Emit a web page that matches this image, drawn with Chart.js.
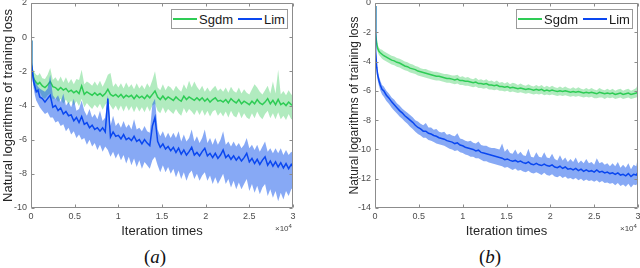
<!DOCTYPE html>
<html>
<head>
<meta charset="utf-8">
<script src="https://cdn.jsdelivr.net/npm/chart.js@4.4.1/dist/chart.umd.min.js"></script>
<style>
  html, body { margin: 0; padding: 0; background: #fff; }
  #wrap { position: relative; width: 640px; height: 268px; overflow: hidden; background: #fff; }
  canvas { position: absolute; top: 0; }
  .leg { position: absolute; top: 9px; width: 117px; height: 20px; box-sizing: border-box;
         border: 1px solid #9a9a9a; background: #fff; font: 13px "Liberation Sans", Arial, sans-serif; color: #1a1a1a; }
  .leg .ln { position: absolute; top: 8px; height: 1.5px; width: 24px; }
  .leg .tx { position: absolute; top: 1px; line-height: 18px; white-space: nowrap; }
  .exp { position: absolute; top: 224px; font: 8px/10px "Liberation Sans", Arial, sans-serif; color: #444; white-space: nowrap; }
  .exp sup { font-size: 6px; vertical-align: 3px; line-height: 0; }
  .cap { position: absolute; top: 246px; width: 60px; text-align: center;
         font: 19px/22px "Liberation Serif", "DejaVu Serif", serif; color: #111; }
</style>
</head>
<body>
<div id="wrap">
  <canvas id="ca" width="320" height="240" style="left:0"></canvas>
  <canvas id="cb" width="320" height="240" style="left:320px"></canvas>

  <div class="leg" style="left:171px">
    <div class="ln" style="left:1px;background:#2ecc55"></div><div class="tx" style="left:27px">Sgdm</div>
    <div class="ln" style="left:66px;background:#0a47f0"></div><div class="tx" style="left:92px">Lim</div>
  </div>
  <div class="leg" style="left:516px">
    <div class="ln" style="left:1px;background:#2ecc55"></div><div class="tx" style="left:27px">Sgdm</div>
    <div class="ln" style="left:66px;background:#0a47f0"></div><div class="tx" style="left:92px">Lim</div>
  </div>

  <div class="exp" style="left:275px">&times;10<sup>4</sup></div>
  <div class="exp" style="left:620px">&times;10<sup>4</sup></div>

  <div class="cap" style="left:125px">(<i>a</i>)</div>
  <div class="cap" style="left:460px">(<i>b</i>)</div>
</div>
<script>
// iteration counts (shared by both panels)
const iters = [
  0, 50, 100, 200, 300, 450, 600, 800, 1000, 1300,
  1600, 1900, 2200, 2500, 2800, 3100, 3400, 3700, 4000, 4300,
  4600, 4900, 5200, 5500, 5800, 6100, 6400, 6700, 7000, 7300,
  7600, 7900, 8200, 8500, 8800, 9100, 9400, 9700, 10000, 10300,
  10600, 10900, 11200, 11500, 11800, 12100, 12400, 12700, 13000, 13300,
  13600, 13900, 14200, 14500, 14800, 15100, 15400, 15700, 16000, 16300,
  16600, 16900, 17200, 17500, 17800, 18100, 18400, 18700, 19000, 19300,
  19600, 19900, 20200, 20500, 20800, 21100, 21400, 21700, 22000, 22300,
  22600, 22900, 23200, 23500, 23800, 24100, 24400, 24700, 25000, 25300,
  25600, 25900, 26200, 26500, 26800, 27100, 27400, 27700, 28000, 28300,
  28600, 28900, 29200, 29500, 29800, 30000
];
const xTickLabels = ["0", "0.5", "1", "1.5", "2", "2.5", "3"];

// (a) Sgdm: mean, band top, band bottom
const sgdmA = [
  -0.2, -1.0, -1.6, -2.1, -2.4, -2.55, -2.65, -2.75, -2.65, -2.85,
  -2.95, -2.8, -2.6, -2.9, -2.95, -3.1, -2.95, -3.1, -3.0, -3.2,
  -3.1, -3.25, -3.15, -3.3, -2.85, -3.35, -3.2, -3.3, -3.4, -3.25,
  -3.4, -3.3, -3.45, -3.3, -3.05, -3.35, -3.45, -3.35, -3.5, -3.35,
  -3.55, -3.4, -3.5, -3.4, -3.6, -3.4, -3.55, -3.45, -3.6, -3.4,
  -3.55, -3.35, -3.15, -3.5, -3.65, -3.45, -3.65, -3.5, -3.6, -3.7,
  -3.5, -3.65, -3.75, -3.45, -3.65, -3.5, -3.6, -3.7, -3.55, -3.7,
  -3.55, -3.75, -3.6, -3.8, -3.65, -3.55, -3.75, -3.7, -3.8, -3.65,
  -3.85, -3.6, -3.75, -3.85, -3.65, -3.9, -3.75, -3.85, -3.95, -3.75,
  -3.9, -3.65, -3.85, -3.95, -3.8, -3.6, -3.9, -3.7, -3.95, -3.65,
  -3.95, -3.85, -4.0, -3.8, -3.95, -4.0
];
const sgdmAHi = [
  -0.1, -0.8, -1.3, -1.8, -2.0, -2.1, -2.2, -2.25, -2.1, -2.4,
  -2.45, -2.2, -1.8, -2.5, -2.35, -2.6, -2.3, -2.65, -2.35, -2.7,
  -2.45, -2.75, -2.45, -2.5, -1.9, -2.75, -2.6, -2.7, -2.85, -2.6,
  -2.85, -2.55, -2.9, -2.6, -2.2, -2.1, -2.9, -2.7, -2.95, -2.7,
  -3.0, -2.65, -2.95, -2.75, -3.05, -2.7, -3.0, -2.8, -3.05, -2.7,
  -2.95, -2.5, -2.0, -2.95, -3.1, -2.75, -3.1, -2.85, -2.95, -3.15,
  -2.85, -3.05, -3.2, -2.75, -3.05, -2.55, -2.95, -2.6, -2.9, -3.1,
  -2.85, -3.2, -2.95, -3.2, -3.0, -2.85, -3.15, -3.0, -3.2, -2.95,
  -3.25, -2.9, -3.15, -3.25, -2.95, -3.3, -3.05, -3.25, -3.35, -3.05,
  -2.75, -2.95, -3.2, -3.35, -3.1, -2.85, -3.3, -2.6, -3.3, -1.9,
  -3.35, -3.15, -3.4, -3.1, -3.35, -3.4
];
const sgdmALo = [
  -0.3, -1.2, -1.9, -2.5, -2.85, -3.0, -3.15, -3.3, -3.2, -3.5,
  -3.6, -3.4, -3.3, -3.65, -3.55, -3.8, -3.6, -3.9, -3.65, -3.95,
  -3.7, -4.0, -3.75, -4.05, -3.6, -4.1, -3.85, -4.05, -4.2, -3.95,
  -4.15, -3.9, -4.25, -3.95, -3.8, -4.0, -4.25, -4.0, -4.3, -4.0,
  -4.35, -4.0, -4.3, -4.05, -4.4, -4.05, -4.35, -4.1, -4.4, -4.05,
  -4.35, -4.0, -3.9, -4.3, -4.45, -4.1, -4.45, -4.2, -4.35, -4.5,
  -4.2, -4.45, -4.6, -4.15, -4.45, -4.2, -4.35, -4.55, -4.25, -4.55,
  -4.25, -4.6, -4.3, -4.65, -4.35, -4.25, -4.6, -4.4, -4.65, -4.35,
  -4.7, -4.3, -4.6, -4.7, -4.35, -4.75, -4.45, -4.7, -4.8, -4.45,
  -4.75, -4.35, -4.65, -4.8, -4.5, -4.3, -4.75, -4.45, -4.8, -4.4,
  -4.8, -4.6, -4.85, -4.5, -4.8, -4.8
];

// (a) Lim
const limA = [
  -0.2, -1.0, -1.6, -2.2, -2.6, -2.9, -3.2, -3.1, -3.5, -3.6,
  -3.8, -3.6, -3.4, -4.1, -4.0, -4.3, -4.15, -4.5, -4.35, -4.6,
  -4.55, -4.9, -4.7, -5.0, -4.65, -5.1, -5.0, -5.3, -5.15, -5.4,
  -5.3, -5.5, -5.3, -5.55, -3.6, -5.85, -5.55, -5.8, -5.75, -5.95,
  -5.7, -6.0, -5.9, -6.05, -5.8, -6.1, -6.0, -6.25, -6.0, -6.2,
  -6.35, -5.2, -4.7, -6.1, -6.45, -6.25, -6.55, -6.4, -6.65, -6.45,
  -6.75, -6.5, -6.85, -6.6, -6.9, -6.7, -6.45, -6.9, -6.75, -6.95,
  -6.7, -6.5, -6.95, -6.8, -7.05, -6.8, -7.1, -6.9, -6.6, -7.05,
  -6.9, -7.15, -6.95, -7.2, -7.0, -7.25, -7.05, -6.8, -7.3, -7.1,
  -7.4, -7.15, -7.45, -7.2, -7.0, -7.5, -7.25, -7.55, -7.3, -7.6,
  -7.35, -7.65, -7.4, -7.7, -7.45, -7.6
];
const limAHi = [
  -0.1, -0.8, -1.3, -1.8, -2.2, -2.5, -2.7, -2.9, -3.0, -3.1,
  -3.2, -3.0, -2.2, -3.4, -3.6, -3.4, -3.8, -3.3, -4.0, -3.8,
  -4.1, -3.6, -4.3, -4.2, -3.7, -4.3, -4.6, -4.2, -4.7, -4.5,
  -4.8, -4.3, -4.9, -4.7, -3.4, -5.2, -4.6, -5.2, -5.0, -5.3,
  -4.9, -5.3, -5.1, -5.4, -4.8, -5.4, -5.3, -5.5, -5.2, -5.5,
  -5.6, -3.9, -3.6, -5.4, -5.8, -5.5, -5.9, -5.6, -5.9, -5.6,
  -5.9, -5.5, -6.1, -5.7, -6.1, -5.9, -5.4, -6.1, -5.8, -6.2,
  -5.9, -5.4, -6.2, -5.9, -6.3, -5.9, -6.3, -6.0, -5.5, -6.3,
  -6.1, -6.4, -6.1, -6.4, -6.2, -6.5, -6.3, -5.9, -6.5, -6.3,
  -6.6, -6.3, -6.7, -6.4, -6.1, -6.7, -6.5, -6.8, -6.5, -6.8,
  -6.5, -6.9, -6.6, -6.9, -6.7, -6.8
];
const limALo = [
  -0.3, -1.2, -1.9, -2.6, -3.0, -3.4, -3.7, -3.9, -4.1, -4.3,
  -4.5, -4.4, -4.7, -4.7, -5.0, -4.9, -5.2, -5.1, -5.5, -5.3,
  -5.7, -5.5, -5.9, -5.7, -6.0, -5.9, -6.3, -6.0, -6.4, -6.2,
  -6.6, -6.3, -6.7, -6.4, -6.6, -7.0, -6.7, -7.1, -6.8, -7.2,
  -6.9, -7.4, -7.0, -7.5, -7.1, -7.6, -7.2, -7.7, -7.3, -7.5,
  -7.7, -7.2, -7.0, -7.5, -7.9, -7.5, -7.9, -7.6, -8.0, -7.7,
  -8.2, -7.8, -8.3, -7.9, -8.4, -8.0, -7.8, -8.3, -8.0, -8.4,
  -8.1, -7.9, -8.4, -8.1, -8.6, -8.2, -8.6, -8.3, -8.0, -8.6,
  -8.3, -8.8, -8.4, -8.9, -8.5, -8.9, -8.6, -8.3, -9.0, -8.6,
  -9.1, -8.7, -9.2, -8.8, -8.6, -9.3, -8.9, -9.4, -9.0, -9.6,
  -9.1, -9.5, -9.0, -9.3, -8.9, -8.8
];

// (b) Sgdm
const sgdmB = [
  -0.2, -1.3, -2.1, -2.8, -3.1, -3.3, -3.4, -3.5, -3.6, -3.7,
  -3.8, -3.9, -3.95, -4.05, -4.1, -4.2, -4.3, -4.35, -4.45, -4.5,
  -4.55, -4.65, -4.7, -4.75, -4.8, -4.85, -4.9, -4.95, -5.0, -5.0,
  -5.05, -5.1, -5.15, -5.15, -5.2, -5.25, -5.2, -5.3, -5.3, -5.35,
  -5.35, -5.4, -5.45, -5.4, -5.5, -5.5, -5.55, -5.5, -5.6, -5.6,
  -5.65, -5.6, -5.7, -5.7, -5.75, -5.7, -5.8, -5.75, -5.8, -5.85,
  -5.8, -5.85, -5.9, -5.85, -5.9, -5.95, -5.9, -5.95, -5.9, -6.0,
  -5.95, -6.0, -5.95, -6.0, -6.05, -6.0, -6.05, -6.0, -6.05, -6.1,
  -6.05, -6.1, -6.05, -6.1, -6.15, -6.1, -6.15, -6.1, -6.15, -6.2,
  -6.1, -6.15, -6.2, -6.15, -6.2, -6.15, -6.25, -6.2, -6.15, -6.25,
  -6.2, -6.15, -6.25, -6.2, -6.15, -6.1
];
const sgdmBHi = [
  -0.05, -1.0, -1.8, -2.5, -2.85, -3.05, -3.15, -3.2, -3.3, -3.4,
  -3.5, -3.6, -3.65, -3.75, -3.8, -3.9, -4.0, -4.05, -4.15, -4.2,
  -4.3, -4.35, -4.45, -4.5, -4.5, -4.6, -4.65, -4.7, -4.7, -4.75,
  -4.8, -4.85, -4.85, -4.9, -4.95, -4.95, -4.9, -5.05, -5.0, -5.1,
  -5.05, -5.15, -5.2, -5.1, -5.25, -5.2, -5.3, -5.2, -5.35, -5.3,
  -5.4, -5.3, -5.45, -5.4, -5.5, -5.4, -5.55, -5.45, -5.5, -5.6,
  -5.5, -5.6, -5.65, -5.55, -5.65, -5.7, -5.6, -5.7, -5.6, -5.75,
  -5.65, -5.75, -5.65, -5.75, -5.8, -5.7, -5.8, -5.7, -5.8, -5.85,
  -5.75, -5.85, -5.75, -5.85, -5.9, -5.8, -5.9, -5.8, -5.9, -5.95,
  -5.8, -5.9, -5.95, -5.85, -5.95, -5.85, -6.0, -5.9, -5.85, -6.0,
  -5.9, -5.85, -6.0, -5.9, -5.8, -5.5
];
const sgdmBLo = [
  -0.35, -1.6, -2.4, -3.1, -3.35, -3.55, -3.65, -3.8, -3.9, -4.0,
  -4.1, -4.2, -4.25, -4.35, -4.4, -4.5, -4.6, -4.65, -4.75, -4.8,
  -4.85, -4.95, -5.0, -5.05, -5.1, -5.15, -5.2, -5.25, -5.3, -5.3,
  -5.35, -5.4, -5.45, -5.45, -5.5, -5.55, -5.5, -5.6, -5.6, -5.65,
  -5.65, -5.7, -5.75, -5.7, -5.8, -5.8, -5.85, -5.8, -5.9, -5.9,
  -5.95, -5.9, -6.0, -6.0, -6.05, -6.0, -6.1, -6.05, -6.1, -6.15,
  -6.1, -6.15, -6.2, -6.15, -6.2, -6.25, -6.2, -6.25, -6.2, -6.3,
  -6.25, -6.3, -6.25, -6.3, -6.35, -6.3, -6.35, -6.3, -6.35, -6.4,
  -6.35, -6.4, -6.35, -6.4, -6.45, -6.4, -6.45, -6.4, -6.5, -6.5,
  -6.45, -6.45, -6.55, -6.45, -6.5, -6.45, -6.55, -6.5, -6.45, -6.55,
  -6.5, -6.45, -6.55, -6.5, -6.45, -6.4
];

// (b) Lim
const limB = [
  -0.2, -2.2, -3.3, -4.4, -4.9, -5.3, -5.6, -5.9, -6.0, -6.3,
  -6.5, -6.75, -6.95, -7.15, -7.35, -7.5, -7.7, -7.85, -8.0, -8.15,
  -8.35, -8.5, -8.6, -8.75, -8.75, -8.9, -8.95, -9.05, -9.1, -9.2,
  -9.25, -9.3, -9.4, -9.45, -9.5, -9.6, -9.55, -9.7, -9.75, -9.85,
  -9.9, -9.95, -10.0, -10.1, -10.05, -10.2, -10.25, -10.3, -10.35, -10.4,
  -10.45, -10.5, -10.55, -10.6, -10.7, -10.65, -10.75, -10.8, -10.75, -10.85,
  -10.8, -10.9, -10.95, -10.85, -11.0, -11.05, -10.95, -11.05, -11.1, -11.0,
  -11.1, -11.15, -11.05, -11.2, -11.25, -11.15, -11.3, -11.2, -11.35, -11.3,
  -11.4, -11.3, -11.45, -11.35, -11.5, -11.4, -11.5, -11.45, -11.55, -11.4,
  -11.55, -11.5, -11.6, -11.55, -11.65, -11.6, -11.7, -11.6, -11.75, -11.7,
  -11.8, -11.65, -11.85, -11.7, -11.75, -11.55
];
const limBHi = [
  -0.05, -2.0, -3.0, -4.1, -4.6, -5.0, -5.3, -5.6, -5.7, -6.0,
  -6.2, -6.45, -6.6, -6.85, -7.0, -7.2, -7.35, -7.5, -7.65, -7.8,
  -8.0, -8.1, -8.25, -8.35, -8.2, -8.5, -8.5, -8.65, -8.6, -8.8,
  -8.85, -8.8, -9.0, -8.95, -9.05, -9.1, -8.9, -9.25, -9.3, -9.4,
  -9.45, -9.4, -9.55, -9.6, -9.45, -9.7, -9.75, -9.75, -9.85, -9.9,
  -9.9, -9.95, -10.0, -9.6, -10.15, -9.95, -10.25, -10.3, -10.0, -10.35,
  -10.15, -10.4, -10.45, -9.95, -10.5, -10.55, -10.2, -10.5, -10.55, -10.2,
  -10.55, -10.6, -10.3, -10.65, -10.75, -10.4, -10.75, -10.55, -10.85, -10.65,
  -10.85, -10.55, -10.95, -10.75, -10.95, -10.65, -10.95, -10.85, -11.05, -10.6,
  -10.95, -10.85, -11.05, -10.95, -11.15, -10.95, -11.15, -10.85, -11.25, -11.05,
  -11.25, -10.95, -11.35, -11.05, -11.15, -10.5
];
const limBLo = [
  -0.35, -2.5, -3.7, -4.8, -5.25, -5.65, -5.95, -6.25, -6.4, -6.7,
  -6.9, -7.15, -7.35, -7.55, -7.75, -7.9, -8.1, -8.25, -8.45, -8.6,
  -8.8, -8.95, -9.05, -9.2, -9.2, -9.35, -9.4, -9.5, -9.6, -9.65,
  -9.7, -9.75, -9.85, -9.95, -10.0, -10.1, -10.05, -10.2, -10.25, -10.35,
  -10.4, -10.5, -10.5, -10.6, -10.6, -10.7, -10.8, -10.8, -10.9, -10.95,
  -11.0, -11.05, -11.1, -11.15, -11.25, -11.2, -11.3, -11.4, -11.3, -11.45,
  -11.4, -11.5, -11.55, -11.45, -11.6, -11.65, -11.55, -11.65, -11.75, -11.6,
  -11.75, -11.8, -11.7, -11.85, -11.9, -11.8, -11.95, -11.85, -12.0, -11.95,
  -12.05, -11.95, -12.1, -12.0, -12.15, -12.05, -12.15, -12.1, -12.2, -12.1,
  -12.25, -12.15, -12.3, -12.25, -12.35, -12.3, -12.45, -12.3, -12.5, -12.4,
  -12.55, -12.35, -12.6, -12.4, -12.45, -12.2
];

const FONT = '"Liberation Sans", Arial, sans-serif';
const GREEN = "#2ecc55";
const GREEN_BAND = "rgba(60, 205, 95, 0.40)";
const BLUE = "#0a47f0";
const BLUE_BAND = "rgba(25, 90, 235, 0.52)";
const NONE = "rgba(0,0,0,0)";

Chart.defaults.font.family = FONT;

function pts(ys) {
  return iters.map((x, i) => ({ x: x, y: ys[i] }));
}

// matlab style box with inward ticks on all four sides
const boxTicks = {
  id: "boxTicks",
  afterDraw(chart) {
    const { ctx, chartArea: a, scales } = chart;
    const L = Math.round(a.left) + 0.5, R = Math.round(a.right) - 0.5;
    const T = Math.round(a.top) + 0.5, B = Math.round(a.bottom) - 0.5;
    ctx.save();
    ctx.strokeStyle = "#8c8c8c";
    ctx.lineWidth = 1;
    ctx.beginPath();
    scales.x.ticks.forEach(t => {
      const px = Math.round(scales.x.getPixelForValue(t.value)) + 0.5;
      ctx.moveTo(px, B); ctx.lineTo(px, B - 3);
      ctx.moveTo(px, T); ctx.lineTo(px, T + 3);
    });
    scales.y.ticks.forEach(t => {
      const py = Math.round(scales.y.getPixelForValue(t.value)) + 0.5;
      ctx.moveTo(L, py); ctx.lineTo(L + 3, py);
      ctx.moveTo(R, py); ctx.lineTo(R - 3, py);
    });
    ctx.rect(L, T, R - L, B - T);
    ctx.stroke();
    ctx.restore();
  }
};

function makeChart(id, s, o) {
  return new Chart(document.getElementById(id), {
    type: "line",
    data: {
      datasets: [
        { data: pts(s.gHi), borderColor: NONE, borderWidth: 0, backgroundColor: GREEN_BAND, fill: "+1", pointRadius: 0, order: 6 },
        { data: pts(s.gLo), borderColor: NONE, borderWidth: 0, fill: false, pointRadius: 0, order: 5 },
        { label: "Sgdm", data: pts(s.g), borderColor: GREEN, borderWidth: 1.5, fill: false, pointRadius: 0, order: 4 },
        { data: pts(s.bHi), borderColor: NONE, borderWidth: 0, backgroundColor: BLUE_BAND, fill: "+1", pointRadius: 0, order: 3 },
        { data: pts(s.bLo), borderColor: NONE, borderWidth: 0, fill: false, pointRadius: 0, order: 2 },
        { label: "Lim", data: pts(s.b), borderColor: BLUE, borderWidth: 1.5, fill: false, pointRadius: 0, order: 1 },
      ],
    },
    options: {
      responsive: false,
      animation: false,
      devicePixelRatio: 1,
      layout: { padding: o.pad },
      plugins: { legend: { display: false }, tooltip: { enabled: false } },
      scales: {
        x: {
          type: "linear",
          min: 0,
          max: 30000,
          grid: { display: false, drawTicks: false },
          border: { display: false },
          ticks: {
            stepSize: 5000,
            padding: 3,
            autoSkip: false,
            maxRotation: 0,
            color: "#4d4d4d",
            font: { size: 9 },
            callback: (v, i) => xTickLabels[i],
          },
          title: {
            display: true,
            text: "Iteration times",
            color: "#262626",
            font: { size: 13 },
            padding: { top: 0, bottom: 1 },
          },
          afterFit: sc => { sc.height = 32; sc.paddingLeft = 0; sc.paddingRight = 0; },
        },
        y: {
          min: o.yMin,
          max: o.yMax,
          grid: { display: false, drawTicks: false },
          border: { display: false },
          ticks: { stepSize: 2, padding: 4, color: "#4d4d4d", font: { size: 9 } },
          title: {
            display: true,
            text: "Natural logarithms of training loss",
            color: "#262626",
            font: { size: o.ySize },
            padding: { top: 1, bottom: 0 },
          },
          afterFit: sc => { sc.width = o.yWidth; sc.paddingTop = 0; sc.paddingBottom = 0; },
        },
      },
    },
    plugins: [boxTicks],
  });
}

makeChart("ca",
  { g: sgdmA, gHi: sgdmAHi, gLo: sgdmALo, b: limA, bHi: limAHi, bLo: limALo },
  { yMin: -10, yMax: 2, ySize: 13, yWidth: 31, pad: { left: 0, right: 27, top: 3, bottom: 0 } });

makeChart("cb",
  { g: sgdmB, gHi: sgdmBHi, gLo: sgdmBLo, b: limB, bHi: limBHi, bLo: limBLo },
  { yMin: -14, yMax: 0, ySize: 12, yWidth: 29, pad: { left: 26, right: 2, top: 3, bottom: 0 } });
</script>
</body>
</html>
